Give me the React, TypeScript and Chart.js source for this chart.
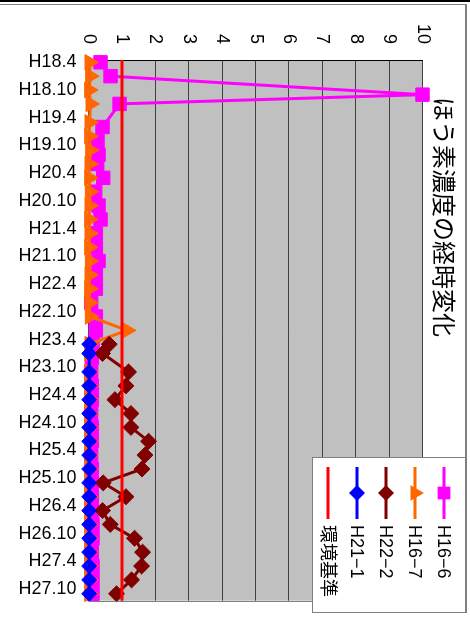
import React, { useEffect, useRef } from 'react';
import { Chart, registerables } from 'chart.js';

Chart.register(...registerables);

const TITLE = 'ほう素濃度の経時変化';

const TICK_LABELS = [
  'H18.4', 'H18.10', 'H19.4', 'H19.10', 'H20.4', 'H20.10', 'H21.4', 'H21.10',
  'H22.4', 'H22.10', 'H23.4', 'H23.10', 'H24.4', 'H24.10', 'H25.4', 'H25.10',
  'H26.4', 'H26.10', 'H27.4', 'H27.10',
];

const SERIES_NAMES = ['H16−6', 'H16−7', 'H22−2', 'H21−1', '環境基準'];

const H16_6_DATES = [
  'H18.4', 'H18.7', 'H18.11', 'H19.1', 'H19.6', 'H19.9', 'H19.12', 'H20.2', 'H20.5', 'H20.8',
  'H20.11', 'H21.2', 'H21.5', 'H21.8', 'H21.11', 'H22.2', 'H22.5', 'H22.8', 'H22.11', 'H23.2',
  'H23.5', 'H23.8', 'H23.11', 'H24.2', 'H24.5', 'H24.8', 'H24.11', 'H25.2', 'H25.5', 'H25.8',
  'H25.11', 'H26.2', 'H26.5', 'H26.8', 'H26.11', 'H27.2', 'H27.5', 'H27.8', 'H27.11',
];
const H16_6_VALUES = [
  0.36, 0.66, 10, 0.93, 0.42, 0.27, 0.3, 0.26, 0.44, 0.2,
  0.3, 0.36, 0.22, 0.22, 0.3, 0.22, 0.22, 0.08, 0.22, 0.22,
  0.12, 0.1, 0.08, 0.1, 0.1, 0.08, 0.1, 0.1, 0.08, 0.1,
  0.1, 0.1, 0.1, 0.12, 0.12, 0.1, 0.12, 0.12, 0.12,
];

const H16_7_DATES = [
  'H18.4', 'H18.7', 'H18.10', 'H19.1', 'H19.5', 'H19.8', 'H19.11', 'H20.2', 'H20.5', 'H20.8',
  'H20.11', 'H21.2', 'H21.5', 'H21.8', 'H21.11', 'H22.2', 'H22.5', 'H22.8', 'H22.11', 'H23.2',
  'H23.5', 'H23.7', 'H23.11', 'H24.2', 'H24.5', 'H24.8', 'H24.11', 'H25.2', 'H25.5', 'H25.8',
  'H25.11', 'H26.2', 'H26.5', 'H26.8', 'H26.11', 'H27.2', 'H27.5', 'H27.8', 'H27.11',
];
const H16_7_VALUES = [
  0.03, 0.05, 0.02, 0.06, 0.03, 0.02, 0.05, 0.03, 0.02, 0.04,
  0.03, 0.02, 0.03, 0.02, 0.04, 0.03, 0.02, 0.03, 0.04, 1.15,
  0.03, 0.02, 0.02, 0.02, 0.02, 0.02, 0.02, 0.02, 0.02, 0.02,
  0.02, 0.02, 0.02, 0.02, 0.02, 0.02, 0.02, 0.02, 0.02,
];

const H22_2_DATES = [
  'H23.5', 'H23.7', 'H23.11', 'H24.2', 'H24.5', 'H24.8', 'H24.11', 'H25.2', 'H25.5', 'H25.8',
  'H25.11', 'H26.2', 'H26.5', 'H26.8', 'H26.11', 'H27.2', 'H27.5', 'H27.8', 'H27.11',
];
const H22_2_VALUES = [
  0.62, 0.42, 1.2, 1.12, 0.79, 1.27, 1.27, 1.8, 1.69, 1.6,
  0.44, 1.12, 0.42, 0.65, 1.38, 1.62, 1.59, 1.29, 0.84,
];

const H21_1_DATES = [
  'H23.5', 'H23.7', 'H23.11', 'H24.2', 'H24.5', 'H24.8', 'H24.11', 'H25.2', 'H25.5', 'H25.8',
  'H25.11', 'H26.2', 'H26.5', 'H26.8', 'H26.11', 'H27.2', 'H27.5', 'H27.8', 'H27.11',
];
const H21_1_VALUES = [
  0.02, 0.02, 0.02, 0.02, 0.02, 0.02, 0.02, 0.02, 0.02, 0.02,
  0.02, 0.02, 0.02, 0.02, 0.02, 0.02, 0.02, 0.02, 0.02,
];

const STANDARD_VALUE = 1;

const AXIS_MIN = -0.5;
const AXIS_MAX = 116.5;

const COLORS = ['#FF00FF', '#FF6600', '#800000', '#0000FF', '#FF0000'];
const STYLES = ['rect', 'triangle', 'rectRot', 'rectRot', 'line'];

const LATIN = '"Liberation Sans", Arial, "Noto Sans CJK JP", sans-serif';
const CJK = '"Noto Sans CJK JP", "Liberation Sans", sans-serif';

function toMonth(label: string): number {
  const [y, m] = label.slice(1).split('.').map(Number);
  return (y - 18) * 12 + (m - 4);
}

function pts(dates: string[], values: number[]) {
  return dates.map((d, i) => ({ x: toMonth(d), y: values[i] }));
}

function drawMarker(ctx: CanvasRenderingContext2D, style: string, x: number, y: number, r: number) {
  ctx.beginPath();
  if (style === 'rect') {
    const s = Math.SQRT1_2 * r;
    ctx.rect(x - s, y - s, 2 * s, 2 * s);
  } else if (style === 'triangle') {
    ctx.moveTo(x, y - r);
    ctx.lineTo(x + 0.866 * r, y + 0.5 * r);
    ctx.lineTo(x - 0.866 * r, y + 0.5 * r);
    ctx.closePath();
  } else if (style === 'rectRot') {
    ctx.moveTo(x - r, y);
    ctx.lineTo(x, y - r);
    ctx.lineTo(x + r, y);
    ctx.lineTo(x, y + r);
    ctx.closePath();
  } else {
    return;
  }
  ctx.fill();
}

const decorPlugin = {
  id: 'decor',
  beforeDraw(chart: any) {
    const { ctx, chartArea: a } = chart;
    ctx.save();
    ctx.fillStyle = '#FFFFFF';
    ctx.fillRect(0, 0, chart.width, chart.height);
    ctx.fillStyle = '#C0C0C0';
    ctx.fillRect(a.left, a.top, a.right - a.left, a.bottom - a.top);
    // frame lines
    ctx.fillStyle = '#000000';
    ctx.fillRect(0, 0, 2, chart.height);
    ctx.fillStyle = '#808080';
    ctx.fillRect(4, 4, 1, chart.height - 4);
    ctx.fillRect(4, 3, 609, 2);
    ctx.restore();
  },
  afterDraw(chart: any) {
    const { ctx, chartArea: a } = chart;
    ctx.save();
    // right edge of plot
    ctx.strokeStyle = '#808080';
    ctx.lineWidth = 1;
    ctx.beginPath();
    ctx.moveTo(Math.round(a.right) + 0.5, a.top);
    ctx.lineTo(Math.round(a.right) + 0.5, a.bottom);
    ctx.stroke();

    // title
    ctx.fillStyle = '#000000';
    ctx.font = '24px ' + CJK;
    ctx.textAlign = 'left';
    ctx.textBaseline = 'middle';
    ctx.fillText(TITLE, 97, 26);

    // legend
    const bx = 457, by = 4, bw = 155, bh = 153;
    ctx.fillStyle = '#FFFFFF';
    ctx.fillRect(bx, by, bw, bh);
    ctx.strokeStyle = '#808080';
    ctx.lineWidth = 1;
    ctx.strokeRect(bx + 0.5, by + 0.5, bw, bh);
    const radii = [9, 9, 8, 8, 0];
    SERIES_NAMES.forEach((name, i) => {
      const y = 26 + i * 29;
      ctx.strokeStyle = COLORS[i];
      ctx.lineWidth = 3;
      ctx.beginPath();
      ctx.moveTo(467, y);
      ctx.lineTo(519, y);
      ctx.stroke();
      ctx.fillStyle = COLORS[i];
      drawMarker(ctx, STYLES[i], 493, y, radii[i]);
      ctx.fillStyle = '#000000';
      ctx.font = '18px ' + LATIN;
      ctx.textAlign = 'left';
      ctx.textBaseline = 'middle';
      ctx.fillText(name, 525, y + 1);
    });
    ctx.restore();
  },
};

export default function App() {
  const ref = useRef<HTMLCanvasElement | null>(null);

  useEffect(() => {
    if (!ref.current) return;
    const common = { borderWidth: 3, tension: 0, clip: false as any, pointBorderWidth: 1, pointHoverRadius: 0 };
    const chart = new Chart(ref.current, {
      type: 'line',
      data: {
        datasets: [
          {
            ...common,
            label: SERIES_NAMES[0],
            data: pts(H16_6_DATES, H16_6_VALUES),
            borderColor: COLORS[0],
            backgroundColor: COLORS[0],
            pointBackgroundColor: COLORS[0],
            pointBorderColor: COLORS[0],
            pointStyle: 'rect',
            pointRadius: 9.5,
            order: 5,
          },
          {
            ...common,
            label: SERIES_NAMES[1],
            data: pts(H16_7_DATES, H16_7_VALUES),
            borderColor: COLORS[1],
            backgroundColor: COLORS[1],
            pointBackgroundColor: COLORS[1],
            pointBorderColor: COLORS[1],
            pointStyle: 'triangle',
            pointRadius: 9,
            order: 4,
          },
          {
            ...common,
            label: SERIES_NAMES[2],
            data: pts(H22_2_DATES, H22_2_VALUES),
            borderColor: COLORS[2],
            backgroundColor: COLORS[2],
            pointBackgroundColor: COLORS[2],
            pointBorderColor: COLORS[2],
            pointStyle: 'rectRot',
            pointRadius: 8,
            order: 3,
          },
          {
            ...common,
            label: SERIES_NAMES[3],
            data: pts(H21_1_DATES, H21_1_VALUES),
            borderColor: COLORS[3],
            backgroundColor: COLORS[3],
            pointBackgroundColor: COLORS[3],
            pointBorderColor: COLORS[3],
            pointStyle: 'rectRot',
            pointRadius: 7.5,
            order: 2,
          },
          {
            ...common,
            label: SERIES_NAMES[4],
            data: [
              { x: AXIS_MIN, y: STANDARD_VALUE },
              { x: AXIS_MAX, y: STANDARD_VALUE },
            ],
            borderColor: COLORS[4],
            backgroundColor: COLORS[4],
            pointRadius: 0,
            order: 1,
          },
        ],
      },
      options: {
        animation: false,
        responsive: false,
        devicePixelRatio: 1,
        events: [],
        layout: { padding: { left: 0, top: 47.5, right: 23.3, bottom: 0 } },
        plugins: {
          legend: { display: false },
          title: { display: false },
          tooltip: { enabled: false },
        },
        scales: {
          x: {
            type: 'linear',
            min: AXIS_MIN,
            max: AXIS_MAX,
            afterBuildTicks: (scale: any) => {
              scale.ticks = TICK_LABELS.map((l) => ({ value: toMonth(l) }));
            },
            afterFit: (scale: any) => {
              scale.height = 470 - 381.5;
            },
            ticks: {
              callback: (value: any) => {
                const found = TICK_LABELS.find((l) => toMonth(l) === value);
                return found ?? '';
              },
              minRotation: 90,
              maxRotation: 90,
              autoSkip: false,
              padding: 12,
              color: '#000000',
              font: { family: LATIN, size: 18 },
            },
            grid: { display: false, drawTicks: false },
            border: { display: false },
          },
          y: {
            type: 'linear',
            min: 0,
            max: 10,
            afterFit: (scale: any) => {
              scale.width = 60;
            },
            ticks: {
              stepSize: 1,
              padding: 16,
              color: '#000000',
              font: { family: LATIN, size: 18 },
            },
            grid: { color: '#404040', lineWidth: 1, drawTicks: false },
            border: { display: true, color: '#000000', width: 1 },
          },
        },
      },
      plugins: [decorPlugin],
    } as any);
    return () => chart.destroy();
  }, []);

  return (
    <div
      style={{
        position: 'fixed',
        left: 0,
        top: 0,
        width: 470,
        height: 624,
        overflow: 'hidden',
        background: '#FFFFFF',
      }}
    >
      <div
        style={{
          position: 'absolute',
          left: 0,
          top: 0,
          width: 624,
          height: 470,
          transformOrigin: '0 0',
          transform: 'translate(470px, 0px) rotate(90deg)',
        }}
      >
        <canvas ref={ref} width={624} height={470} style={{ display: 'block', width: 624, height: 470 }} />
      </div>
    </div>
  );
}
